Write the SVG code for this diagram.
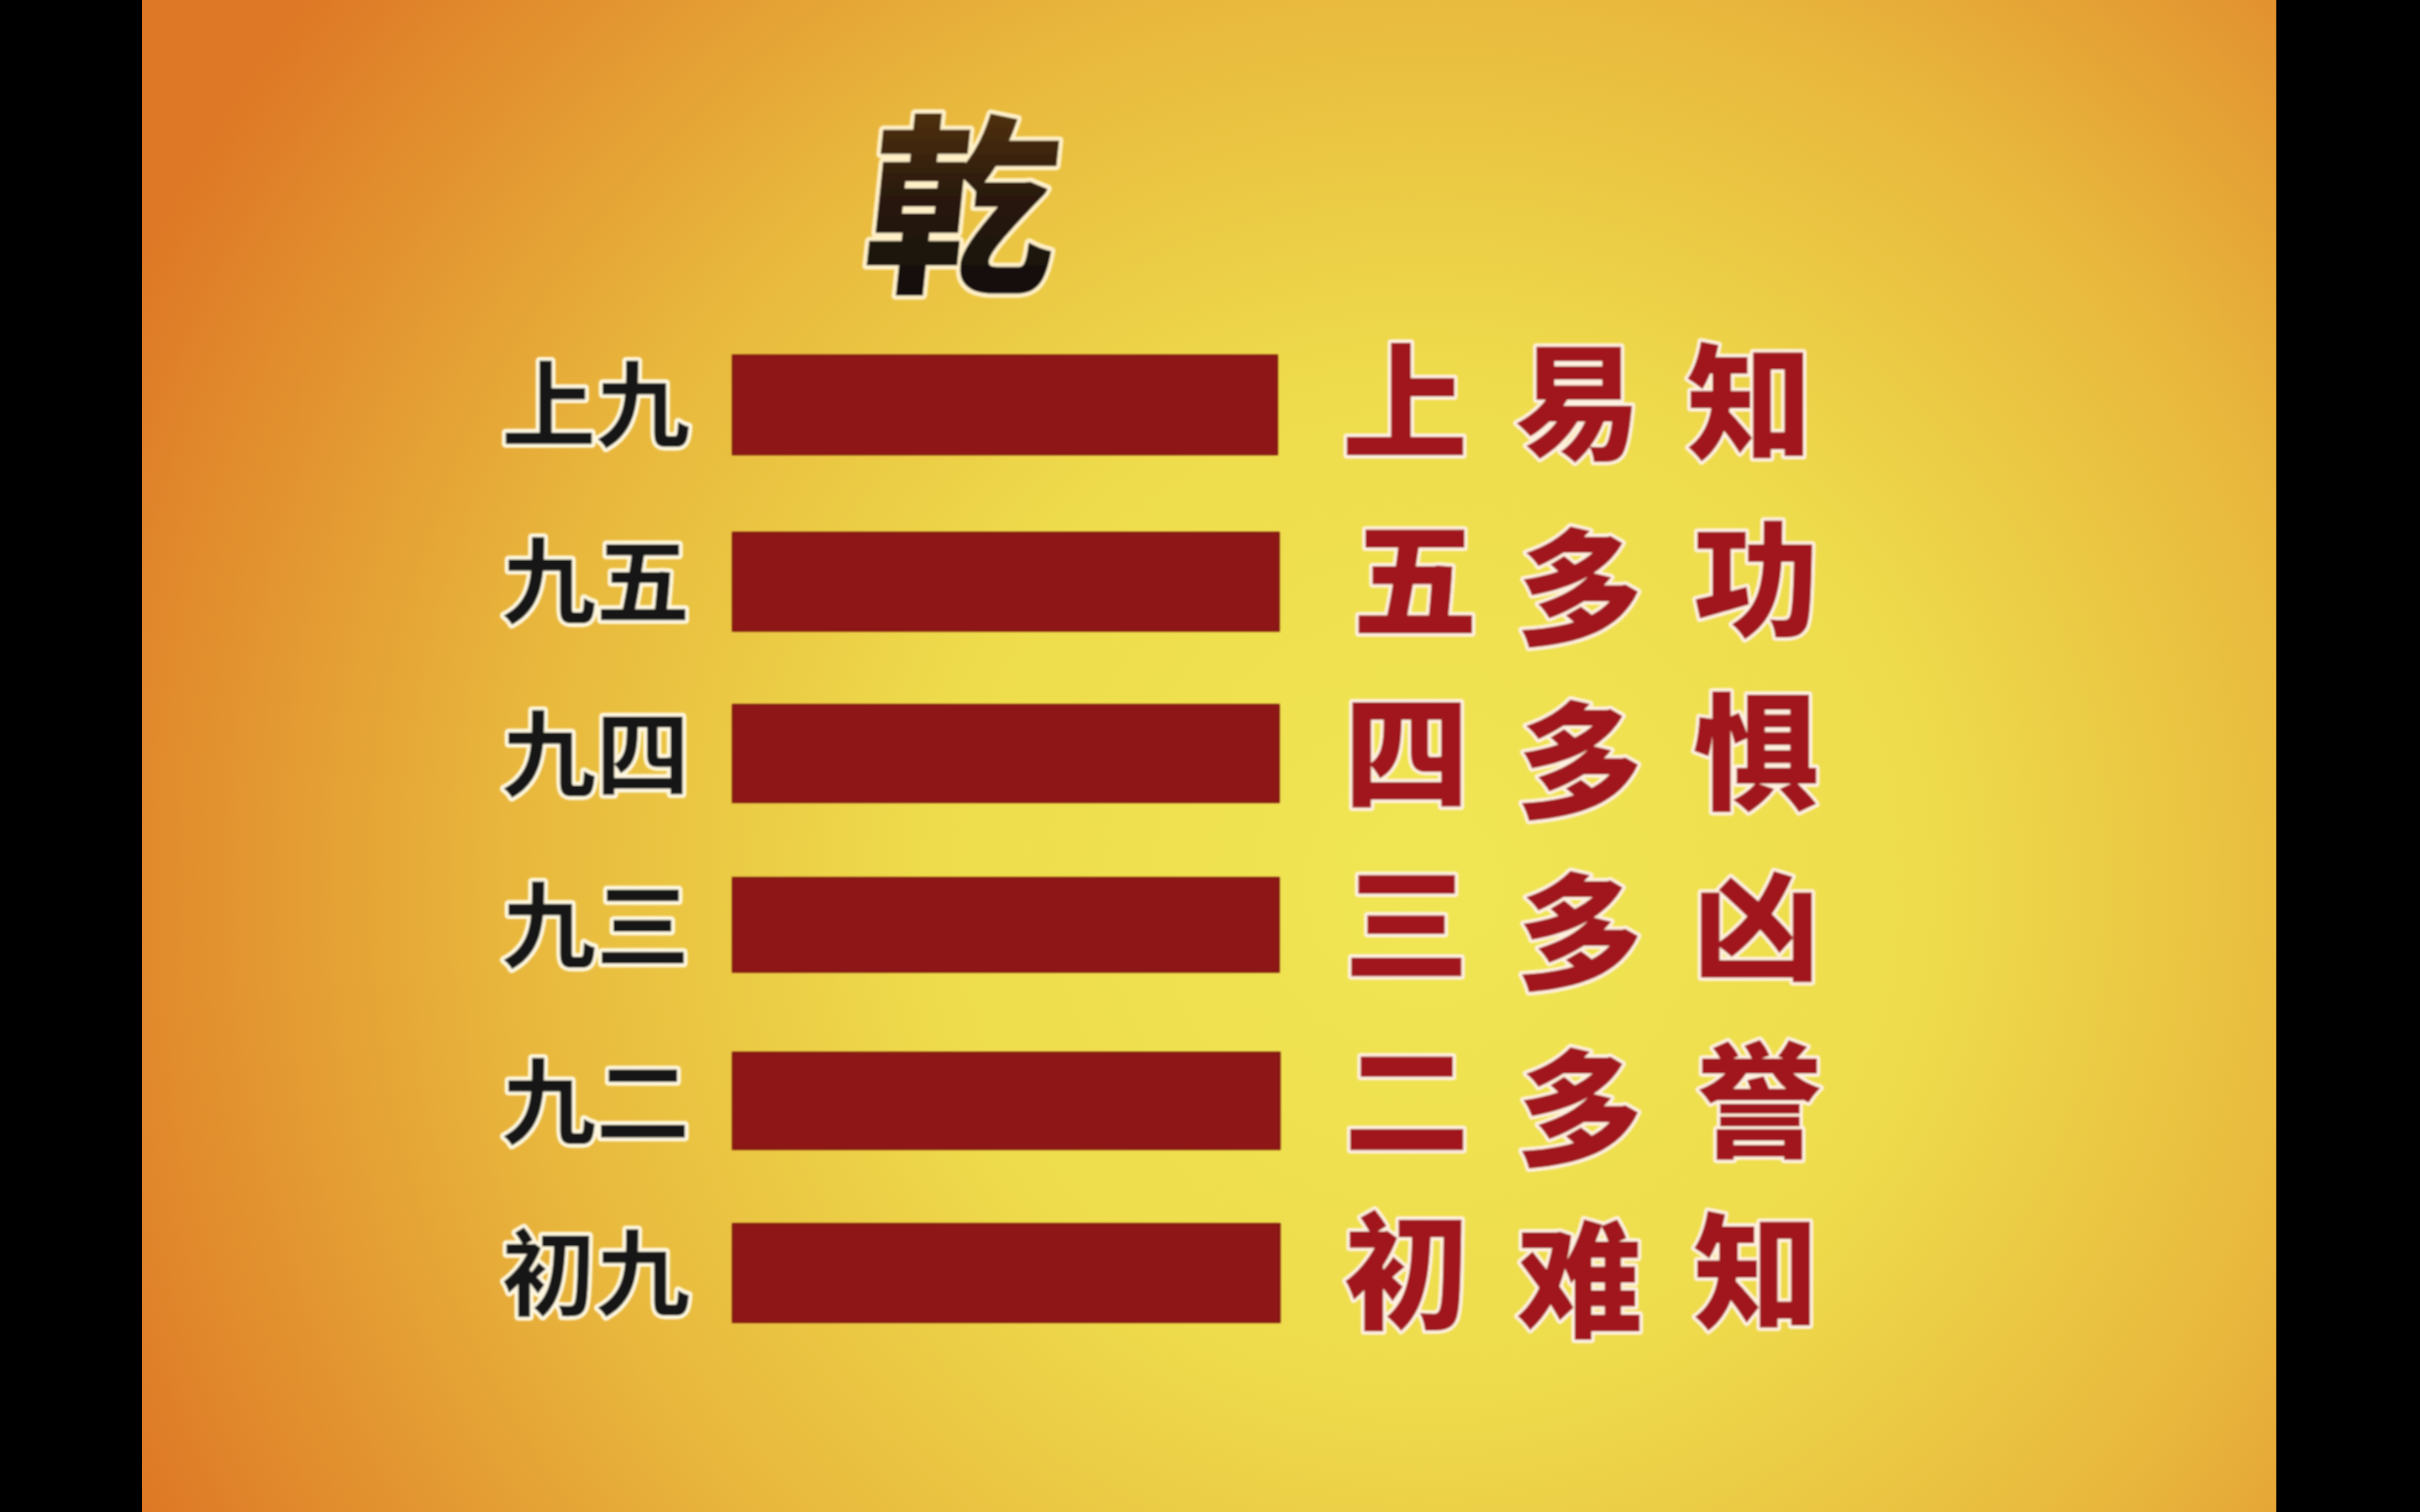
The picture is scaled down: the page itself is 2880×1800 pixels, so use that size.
<svg xmlns="http://www.w3.org/2000/svg" width="2880" height="1800" viewBox="0 0 2880 1800">
<defs>
<radialGradient id="bg" cx="1700" cy="1050" r="1700" gradientUnits="userSpaceOnUse">
<stop offset="0" stop-color="#F0E654"/>
<stop offset="0.35" stop-color="#EEDC4C"/>
<stop offset="0.65" stop-color="#E8B63C"/>
<stop offset="1" stop-color="#DE7826"/>
</radialGradient>
<linearGradient id="tg" x1="0" y1="0" x2="0" y2="1">
<stop offset="0" stop-color="#6A4010"/>
<stop offset="0.5" stop-color="#2A1A08"/>
<stop offset="1" stop-color="#0A0A0A"/>
</linearGradient>
<filter id="soft" x="-10%" y="-10%" width="120%" height="120%"><feGaussianBlur stdDeviation="1.2"/></filter>
</defs>
<style>
.bar{fill:#8E1912;stroke:#7A1410;stroke-width:2}
.lbl{font-family:"Noto Sans CJK SC","Noto Sans CJK JP",sans-serif;font-size:112px;font-weight:700;fill:#151515;stroke:#FFF8E0;stroke-width:9;paint-order:stroke;stroke-linejoin:round}
.cal{font-family:"Noto Sans CJK SC","Noto Sans CJK JP",sans-serif;font-size:150px;font-weight:900;fill:#A0171A;stroke:#FFF1E0;stroke-width:8;paint-order:stroke;stroke-linejoin:round;text-anchor:middle}
.ttl{font-family:"Noto Sans CJK SC","Noto Sans CJK JP",sans-serif;font-size:228px;font-weight:900;fill:url(#tg);stroke:#FFF0C8;stroke-width:10;paint-order:stroke;stroke-linejoin:round;text-anchor:middle}
</style>
<rect x="0" y="0" width="2880" height="1800" fill="#000"/>
<rect x="169" y="0" width="2540" height="1800" fill="url(#bg)"/>
<g id="title" filter="url(#soft)"><text class="ttl" x="1140" y="330" transform="skewX(-6) translate(32,0)">乾</text></g>
<g id="row1" filter="url(#soft)">
<text class="lbl" x="597" y="524">上九</text>
<rect class="bar" x="872" y="423" width="648" height="118"/>
<text class="cal" x="1672" y="535">上</text><text class="cal" x="1878" y="535">易</text><text class="cal" x="2082" y="535">知</text>
</g>
<g id="row2" filter="url(#soft)">
<text class="lbl" x="597" y="734">九五</text>
<rect class="bar" x="872" y="634" width="650" height="117"/>
<text class="cal" x="1684" y="746">五</text><text class="cal" x="1880" y="756">多</text><text class="cal" x="2090" y="746">功</text>
</g>
<g id="row3" filter="url(#soft)">
<text class="lbl" x="597" y="940">九四</text>
<rect class="bar" x="872" y="839" width="650" height="116"/>
<text class="cal" x="1674" y="952">四</text><text class="cal" x="1880" y="962">多</text><text class="cal" x="2090" y="952">惧</text>
</g>
<g id="row4" filter="url(#soft)">
<text class="lbl" x="597" y="1144">九三</text>
<rect class="bar" x="872" y="1045" width="650" height="112"/>
<text class="cal" x="1674" y="1156">三</text><text class="cal" x="1880" y="1166">多</text><text class="cal" x="2090" y="1156">凶</text>
</g>
<g id="row5" filter="url(#soft)">
<text class="lbl" x="597" y="1354">九二</text>
<rect class="bar" x="872" y="1253" width="651" height="115"/>
<text class="cal" x="1674" y="1366">二</text><text class="cal" x="1880" y="1376">多</text><text class="cal" x="2094" y="1366">誉</text>
</g>
<g id="row6" filter="url(#soft)">
<text class="lbl" x="597" y="1558">初九</text>
<rect class="bar" x="872" y="1457" width="651" height="117"/>
<text class="cal" x="1674" y="1570">初</text><text class="cal" x="1880" y="1580">难</text><text class="cal" x="2090" y="1570">知</text>
</g>
<g id="connectors"/>
</svg>
